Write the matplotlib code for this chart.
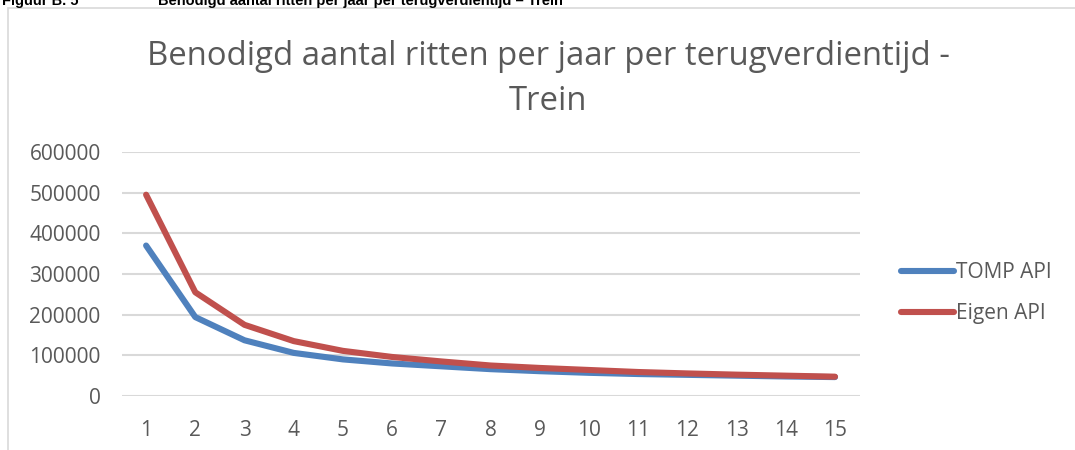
import matplotlib
matplotlib.use("Agg")
import matplotlib.pyplot as plt
from matplotlib.patches import Rectangle
from matplotlib.lines import Line2D

years = list(range(1, 16))
tomp_api = [370000, 194000, 137000, 106000, 90000, 80000, 73000, 66000,
            61000, 57000, 54000, 52000, 50000, 48000, 46500]
eigen_api = [495000, 255000, 175000, 135000, 111000, 96000, 85000, 75000,
             69000, 64000, 59000, 55500, 52500, 50000, 47500]
series_names = ["TOMP API", "Eigen API"]
yticks = [0, 100000, 200000, 300000, 400000, 500000, 600000]
title = "Benodigd aantal ritten per jaar per terugverdientijd -\nTrein"
caption_label = "Figuur B. 5"
caption_text = "Benodigd aantal ritten per jaar per terugverdientijd \u2013 Trein"

W, H = 1075, 450
fig = plt.figure(figsize=(W / 100, H / 100), dpi=100)
fig.patch.set_facecolor("white")

def fx(px):
    return px / W

def fy(py):
    return 1 - py / H

# chart frame
fig.patches.append(Rectangle((fx(8), fy(470)), fx(1100), (470 - 8) / H,
                             transform=fig.transFigure, fill=False,
                             edgecolor="#D9D9D9", linewidth=1.2))

# caption (cut off at top)
cap_kw = dict(fontfamily="Liberation Sans", fontweight="bold", fontsize=10.5,
              color="black", va="baseline", ha="left")
fig.text(fx(2), fy(5), caption_label, **cap_kw)
fig.text(fx(158), fy(5), caption_text, **cap_kw)

left, right, top, bottom = 121.5, 859.6, 152, 396
ax = fig.add_axes([fx(left), fy(bottom), fx(right - left), (bottom - top) / H])

gray = "#595959"
font = "Open Sans"
blue = "#4F81BD"
red = "#C0504D"
fs = 15

ax.plot(years, tomp_api, color=blue, linewidth=4.4, solid_capstyle="round",
        solid_joinstyle="round", zorder=3)
ax.plot(years, eigen_api, color=red, linewidth=4.4, solid_capstyle="round",
        solid_joinstyle="round", zorder=4)

ax.set_xlim(0.5, 15.5)
ax.set_ylim(0, 600000)
ax.set_xticks(years)
ax.set_xticklabels([str(y) for y in years])
ax.set_yticks(yticks)
ax.set_yticklabels([str(v) for v in yticks])
ax.grid(axis="y", color="#D9D9D9", linewidth=1.5, zorder=0)
ax.set_axisbelow(True)
for s in ax.spines.values():
    s.set_visible(False)
ax.tick_params(axis="both", length=0, labelcolor=gray, labelsize=fs)
ax.tick_params(axis="y", pad=15)
ax.tick_params(axis="x", pad=17)
for lab in ax.get_xticklabels() + ax.get_yticklabels():
    lab.set_fontfamily(font)

fig.text(fx(548), fy(79), title, fontfamily=font, fontsize=23.7, color=gray,
         ha="center", va="center", linespacing=1.48)

# legend
legend_handles = [Line2D([0], [0], color=blue, linewidth=4.4, solid_capstyle="round"),
                  Line2D([0], [0], color=red, linewidth=4.4, solid_capstyle="round")]
fig.legend(legend_handles, series_names, loc="center left",
           bbox_to_anchor=(fx(882), fy(293)), frameon=False,
           prop={"family": font, "size": fs}, labelcolor=gray,
           handlelength=2.55, handletextpad=0.1, labelspacing=0.95)

fig.savefig("out.png", dpi=100, facecolor="white")
